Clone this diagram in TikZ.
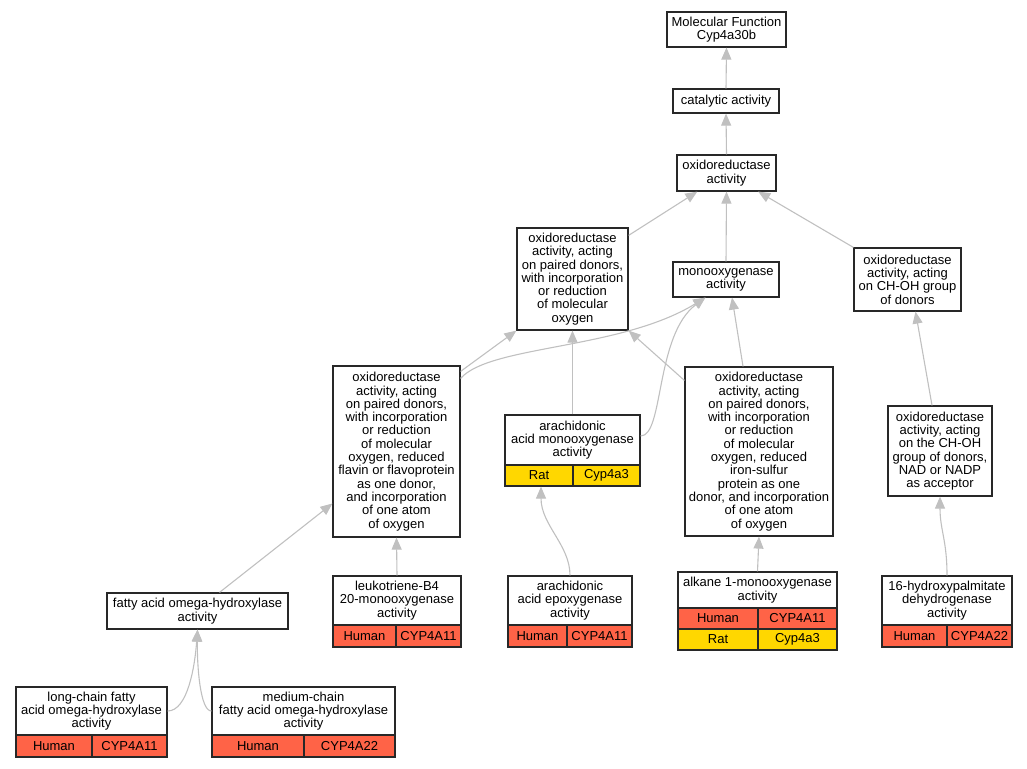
\documentclass[tikz,border=0pt]{standalone}
\usepackage{fontspec}
\setmainfont{Liberation Sans}
\usetikzlibrary{arrows.meta,calc}
\definecolor{edgegray}{RGB}{192,192,192}
\definecolor{human}{RGB}{255,99,71}
\definecolor{rat}{RGB}{255,215,0}
\definecolor{border}{RGB}{40,40,40}
\tikzset{
  box/.style={draw=border, line width=1.2pt, fill=white, align=center, inner sep=0pt,
    font=\fontsize{13.0}{13.3}\selectfont},
  sz/.style 2 args={minimum width=#1pt, minimum height=#2pt},
  hcell/.style={box, fill=human},
  rcell/.style={box, fill=rat},
  link/.style={draw=edgegray, line width=1.1pt, -{Triangle[length=12pt,width=10pt]}},
}
\begin{document}
\begin{tikzpicture}[x=1pt,y=-1pt]
\useasboundingbox (0,0) rectangle (1027,768);
% nodes
\node[box, sz={119}{35}] (mf) at (726.5,29.5) {Molecular Function\\Cyp4a30b};
\node[box, sz={106}{24}] (cat) at (726,101) {catalytic activity};
\node[box, sz={99}{36}] (oxr) at (726.5,173) {oxidoreductase\\activity};
\node[box, sz={111}{102}] (opd) at (572.5,279) {oxidoreductase\\activity, acting\\on paired donors,\\with incorporation\\or reduction\\of molecular\\oxygen};
\node[box, sz={106}{35}] (mono) at (726,279.5) {monooxygenase\\activity};
\node[box, sz={107}{63}] (choh) at (907.5,279.5) {oxidoreductase\\activity, acting\\on CH-OH group\\of donors};
\node[box, sz={127}{171}] (flavin) at (396.5,451.5) {oxidoreductase\\activity, acting\\on paired donors,\\with incorporation\\or reduction\\of molecular\\oxygen, reduced\\flavin or flavoprotein\\as one donor,\\and incorporation\\of one atom\\of oxygen};
\node[box, sz={148}{169}] (iron) at (759,451.5) {oxidoreductase\\activity, acting\\on paired donors,\\with incorporation\\or reduction\\of molecular\\oxygen, reduced\\iron-sulfur\\protein as one\\donor, and incorporation\\of one atom\\of oxygen};
\node[box, sz={104}{90}] (nad) at (940,451) {oxidoreductase\\activity, acting\\on the CH-OH\\group of donors,\\NAD or NADP\\as acceptor};
% arachidonic acid monooxygenase
\node[box, sz={135}{50}] (aramono) at (572.5,440) {arachidonic\\acid monooxygenase\\activity};
\node[rcell, sz={68}{21}] (amR) at (539,475.5) {Rat};
\node[rcell, sz={67}{21}] (amG) at (606.5,475.5) {Cyp4a3};
% fatty acid omega-hydroxylase
\node[box, sz={181}{36}] (fatty) at (197.5,611) {fatty acid omega-hydroxylase\\activity};
% leukotriene
\node[box, sz={128}{49}] (leuko) at (397,600.5) {leukotriene-B4\\20-monooxygenase\\activity};
\node[hcell, sz={63}{22}] (lkH) at (364.5,636) {Human};
\node[hcell, sz={65}{22}] (lkG) at (428.5,636) {CYP4A11};
% arachidonic epoxygenase
\node[box, sz={124}{49}] (araepox) at (570,600.5) {arachidonic\\acid epoxygenase\\activity};
\node[hcell, sz={59}{22}] (aeH) at (537.5,636) {Human};
\node[hcell, sz={65}{22}] (aeG) at (599.5,636) {CYP4A11};
% alkane
\node[box, sz={159}{36}] (alkane) at (757.5,590) {alkane 1-monooxygenase\\activity};
\node[hcell, sz={80}{21}] (alH) at (718,618.5) {Human};
\node[hcell, sz={79}{21}] (alG) at (797.5,618.5) {CYP4A11};
\node[rcell, sz={80}{21}] (alR) at (718,639.5) {Rat};
\node[rcell, sz={79}{21}] (alC) at (797.5,639.5) {Cyp4a3};
% 16-hydroxypalmitate
\node[box, sz={130}{49}] (hp) at (947,600.5) {16-hydroxypalmitate\\dehydrogenase\\activity};
\node[hcell, sz={65}{22}] (hpH) at (914.5,636) {Human};
\node[hcell, sz={65}{22}] (hpG) at (979.5,636) {CYP4A22};
% long-chain
\node[box, sz={151}{48}] (long) at (91.5,711) {long-chain fatty\\acid omega-hydroxylase\\activity};
\node[hcell, sz={76}{22}] (lcH) at (54,746) {Human};
\node[hcell, sz={75}{22}] (lcG) at (129.5,746) {CYP4A11};
% medium-chain
\node[box, sz={183}{48}] (medium) at (303.5,711) {medium-chain\\fatty acid omega-hydroxylase\\activity};
\node[hcell, sz={92}{22}] (mcH) at (258,746) {Human};
\node[hcell, sz={91}{22}] (mcG) at (349.5,746) {CYP4A22};
% edges
\draw[link] (cat.north) -- (mf.south);
\draw[link] (oxr.north) -- (cat.south);
\draw[link] ([yshift=-8pt]opd.north east) -- (oxr);
\draw[link] (mono.north) -- (oxr.south);
\draw[link] (choh.north west) -- (oxr);
\draw[link] ([yshift=-6pt]flavin.north east) -- (opd.south west);
\draw[link] ([yshift=-13pt]flavin.north east) .. controls (490,345) and (620,350) .. ($(mono.south west)+(33,0)$);
\draw[link] (aramono.north) -- (opd.south);
\draw[link] ([yshift=4pt]aramono.east) .. controls (664,436) and (655,335) .. ($(mono.south west)+(33,0)$);
\draw[link] ([yshift=-14pt]iron.north west) -- (opd.south east);
\draw[link] ([xshift=-16pt]iron.north) -- ([xshift=6pt]mono.south);
\draw[link] ([xshift=-8pt]nad.north) -- ([xshift=8pt]choh.south);
\draw[link] ([xshift=22pt]fatty.north) -- ($(flavin.west)+(0,52)$);
\draw[link] (leuko.north) -- (flavin.south);
\draw[link] (araepox.north) .. controls (570,545) and (541,525) .. ([xshift=2pt]amR.south);
\draw[link] (alkane.north) -- (iron.south);
\draw[link] (hp.north) .. controls (947,540) and (940,530) .. (nad.south);
\draw[link] (long.east) .. controls (188,711) and (195,665) .. (fatty.south);
\draw[link] (medium.west) .. controls (200,711) and (197,665) .. (fatty.south);
\end{tikzpicture}
\end{document}
